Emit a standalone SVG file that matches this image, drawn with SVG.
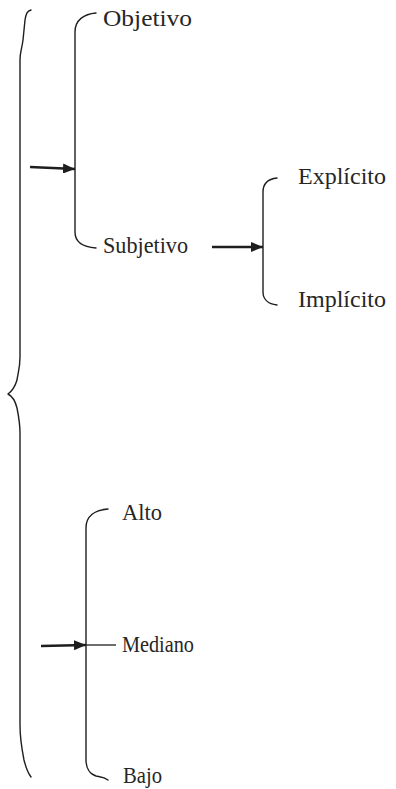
<svg xmlns="http://www.w3.org/2000/svg" width="396" height="789" viewBox="0 0 396 789">
  <style>
    .brace { fill: none; stroke: #1e1e1e; stroke-width: 1.4; stroke-linecap: round; stroke-linejoin: round; }
    .arrow { fill: none; stroke: #1e1e1e; stroke-width: 2.4; }
    .tick { fill: none; stroke: #1e1e1e; stroke-width: 1.3; }
    .label { font-family: "Liberation Serif", "DejaVu Serif", serif; font-size: 23.5px; fill: #262626; }
  </style>
  <defs>
    <marker id="head" markerUnits="userSpaceOnUse" markerWidth="12" markerHeight="10" viewBox="0 0 12 10" refX="12" refY="5" orient="auto">
      <path d="M0,0 L12,5 L0,10 Z" fill="#1e1e1e"/>
    </marker>
  </defs>
  <rect width="396" height="789" fill="#ffffff"/>

  <!-- outer brace spanning both groups -->
  <g id="outer-brace">
    <path class="brace" d="M31,10 C27,11 26,14 25,20 L23,40 C22,48 20,52 20,60 L20,357 C20,368 18,373 17,380 C15,387 12,391 8,394 C12,396 15,400 17,408 C19,418 20,425 20,433 L20,725 C20,740 22,750 24,760 C26,768 28,773 31,777"/>
  </g>

  <!-- Objetivo / Subjetivo -->
  <g id="node-objetivo-subjetivo">
    <path class="brace" d="M96,13 C84,14 75,20 75,32 L75,232 C75,242 82,247 96,248"/>
    <text class="label" id="node-objetivo" x="103" y="26" textLength="89" lengthAdjust="spacingAndGlyphs">Objetivo</text>
    <text class="label" id="node-subjetivo" x="103" y="253" textLength="85" lengthAdjust="spacingAndGlyphs">Subjetivo</text>
  </g>

  <!-- Explícito / Implícito -->
  <g id="node-explicito-implicito">
    <path class="brace" d="M277,178 C268,179 263,184 263,192 L263,292 C263,299 268,304 277,305"/>
    <text class="label" id="node-explicito" x="298" y="184" textLength="88" lengthAdjust="spacingAndGlyphs">Explícito</text>
    <text class="label" id="node-implicito" x="298" y="307" textLength="88" lengthAdjust="spacingAndGlyphs">Implícito</text>
  </g>

  <!-- Alto / Mediano / Bajo -->
  <g id="node-alto-mediano-bajo">
    <path class="brace" d="M108,509 C95,510 86,516 86,528 L86,760 C86,768 90,774 96,776 C101,777 104,777 108,780"/>
    <path class="tick" d="M86,645 L116,645"/>
    <text class="label" id="node-alto" x="122" y="520" textLength="40" lengthAdjust="spacingAndGlyphs">Alto</text>
    <text class="label" id="node-mediano" x="122" y="652" textLength="72" lengthAdjust="spacingAndGlyphs">Mediano</text>
    <text class="label" id="node-bajo" x="123" y="783" textLength="39" lengthAdjust="spacingAndGlyphs">Bajo</text>
  </g>

  <!-- connectors -->
  <g id="connectors">
    <path class="arrow" d="M30,167 L75,169" marker-end="url(#head)"/>
    <path class="arrow" d="M212,247 L263,247" marker-end="url(#head)"/>
    <path class="arrow" d="M41,646 L86,645" marker-end="url(#head)"/>
  </g>
</svg>
